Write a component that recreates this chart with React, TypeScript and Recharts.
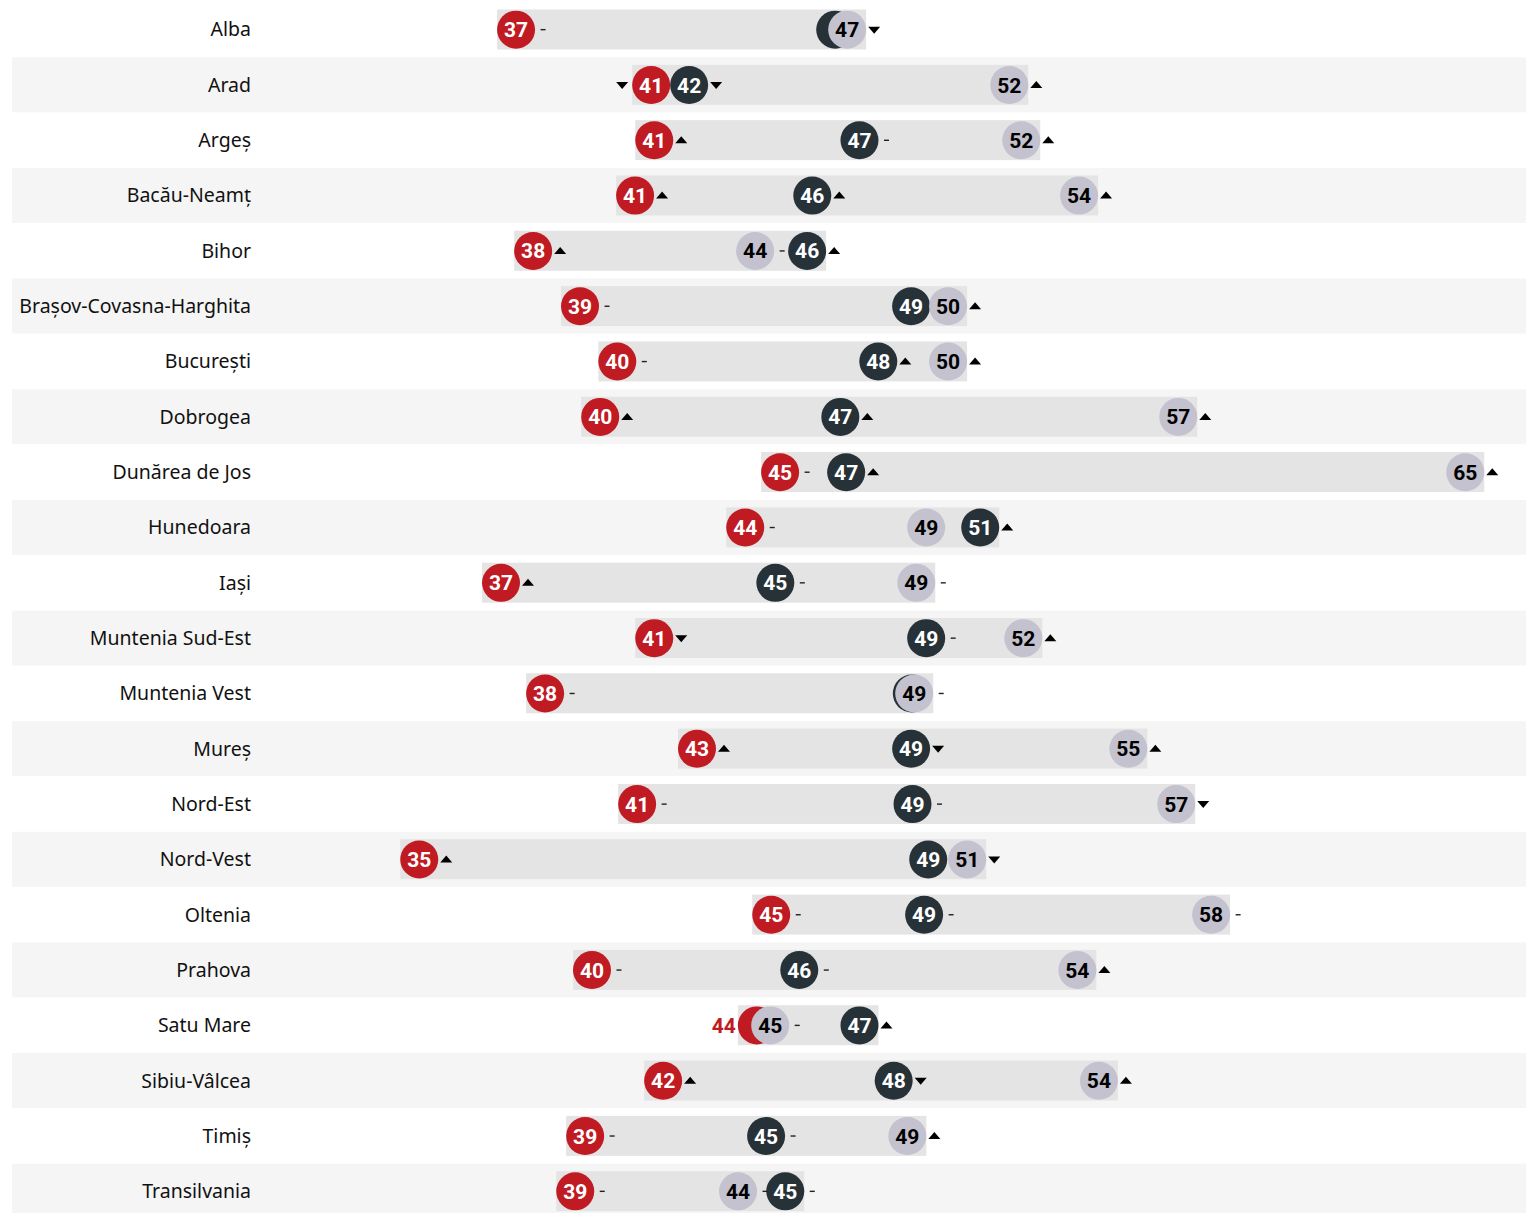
import { ComposedChart, Bar, Line, XAxis, YAxis } from "recharts";

// regions, top to bottom
const regions = [
  "Alba", "Arad", "Argeș", "Bacău-Neamț", "Bihor", "Brașov-Covasna-Harghita",
  "București", "Dobrogea", "Dunărea de Jos", "Hunedoara", "Iași", "Muntenia Sud-Est",
  "Muntenia Vest", "Mureș", "Nord-Est", "Nord-Vest", "Oltenia", "Prahova",
  "Satu Mare", "Sibiu-Vâlcea", "Timiș", "Transilvania",
];

const redValues = [
  37.41, 41.36, 41.45, 40.89, 37.91, 39.28, 40.37, 39.87, 45.13, 44.11, 36.97,
  41.45, 38.26, 42.7, 40.95, 34.58, 44.87, 39.63, 44.45, 41.71, 39.43, 39.14,
];
const darkValues = [
  46.74, 42.47, 47.45, 46.07, 45.92, 48.96, 48.0, 46.89, 47.06, 50.98, 44.99,
  49.4, 48.98, 48.96, 49.0, 49.46, 49.34, 45.69, 47.45, 48.45, 44.72, 45.28,
];
const lightValues = [
  47.09, 51.83, 52.18, 53.87, 44.4, 50.04, 50.04, 56.77, 65.16, 49.4, 49.11,
  52.24, 49.05, 55.31, 56.71, 50.6, 57.73, 53.82, 44.84, 54.45, 48.85, 43.9,
];

// u = up, d = down, f = flat, "" = no marker, x = hidden label,
// dl = down marker on the left, o = label outside on the left
const redTrend = [
  "f", "dl", "u", "u", "u", "f", "f", "u", "f", "f", "u",
  "d", "f", "u", "f", "u", "f", "f", "o", "u", "f", "f",
];
const darkTrend = [
  "x", "d", "f", "u", "u", "", "u", "u", "u", "u", "f",
  "f", "x", "d", "f", "", "f", "f", "u", "d", "f", "f",
];
const lightTrend = [
  "d", "u", "u", "u", "f", "u", "u", "u", "u", "", "f",
  "u", "f", "u", "d", "d", "f", "u", "f", "u", "u", "f",
];

const RED = "#c01a22";
const DARK = "#263238";
const LIGHT = "#c3c2ce";
const R = 19;
const NUM_FONT = "Roboto, 'DejaVu Sans', sans-serif";

const data = regions.map((name, i) => ({
  name,
  red: redValues[i],
  dark: darkValues[i],
  light: lightValues[i],
  range: [
    Math.min(redValues[i], darkValues[i], lightValues[i]),
    Math.max(redValues[i], darkValues[i], lightValues[i]),
  ],
}));

function Marker({ kind, x, y }: { kind: string; x: number; y: number }) {
  if (kind === "u") {
    return <path d={`M${x - 6},${y + 3} L${x + 6},${y + 3} L${x},${y - 4} Z`} fill="#000" />;
  }
  if (kind === "d" || kind === "dl") {
    return <path d={`M${x - 6},${y - 3} L${x + 6},${y - 3} L${x},${y + 4} Z`} fill="#000" />;
  }
  if (kind === "f") {
    return <rect x={x - 2.5} y={y - 0.7} width={5} height={1.4} fill="#222" />;
  }
  return null;
}

function makeDot(fill: string, textFill: string, trends: string[], key: string) {
  return (props: any) => {
    const { cx, cy, index, value } = props;
    if (cx == null || cy == null) return <g key={`${key}-${index}`} />;
    const t = trends[index];
    const label = Math.round(value);
    return (
      <g key={`${key}-${index}`}>
        <circle cx={cx} cy={cy} r={R} fill={fill} />
        {t === "o" ? (
          <text x={cx - 21} y={cy} dy=".36em" textAnchor="end" fill={fill}
            fontFamily={NUM_FONT} fontWeight={700} fontSize={21}>
            {label}
          </text>
        ) : t !== "x" ? (
          <text x={cx} y={cy} dy=".36em" textAnchor="middle" fill={textFill}
            fontFamily={NUM_FONT} fontWeight={700} fontSize={21}>
            {label}
          </text>
        ) : null}
        {t !== "x" && t !== "o" && (
          <Marker kind={t} x={t === "dl" ? cx - 29 : cx + 27} y={cy} />
        )}
      </g>
    );
  };
}

function RowShape(props: any) {
  const { x, y, width, height, index } = props;
  const cy = y + height / 2;
  return (
    <g>
      {index % 2 === 1 && (
        <rect x={12} y={y} width={1514} height={height} fill="#f5f5f5" />
      )}
      <rect x={x - R} y={cy - 20} width={width + 2 * R} height={40} fill="#e4e4e4" />
    </g>
  );
}

function RegionTick(props: any) {
  const { y, payload } = props;
  return (
    <text x={251} y={y} dy=".35em" textAnchor="end" fill="#111"
      fontFamily="'Noto Sans', sans-serif" fontSize={19.5}>
      {payload.value}
    </text>
  );
}

export default function App() {
  return (
    <div style={{ position: "absolute", left: 0, top: 0, width: 1526, height: 1213, overflow: "hidden", background: "#fff" }}>
      <ComposedChart
        layout="vertical"
        width={1526}
        height={1219}
        data={data}
        margin={{ top: 2, right: 32, left: 0, bottom: 0 }}
        barCategoryGap={0}
      >
        <XAxis type="number" domain={[32, 66]} hide />
        <YAxis
          type="category"
          dataKey="name"
          width={331}
          interval={0}
          axisLine={false}
          tickLine={false}
          tick={<RegionTick />}
        />
        <Bar dataKey="range" isAnimationActive={false} shape={<RowShape />} />
        <Line dataKey="red" stroke="none" isAnimationActive={false} activeDot={false}
          dot={makeDot(RED, "#fff", redTrend, "r")} />
        <Line dataKey="dark" stroke="none" isAnimationActive={false} activeDot={false}
          dot={makeDot(DARK, "#fff", darkTrend, "d")} />
        <Line dataKey="light" stroke="none" isAnimationActive={false} activeDot={false}
          dot={makeDot(LIGHT, "#000", lightTrend, "l")} />
      </ComposedChart>
    </div>
  );
}
